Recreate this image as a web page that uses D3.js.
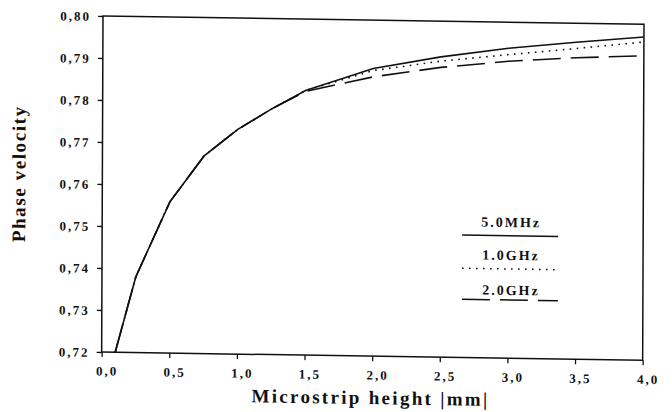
<!DOCTYPE html>
<html><head><meta charset="utf-8">
<script src="https://cdn.jsdelivr.net/npm/d3@7"></script>
<style>
html,body{margin:0;padding:0;background:#fff;}
svg{display:block;}
text{font-family:"Liberation Serif","DejaVu Serif",serif;font-weight:bold;fill:#111;}
</style></head>
<body>
<svg id="chart" width="672" height="412"></svg>
<script>
// ---- data ----
const heights = [0.1, 0.25, 0.5, 0.75, 1.0, 1.25, 1.5, 2.0, 2.5, 3.0, 3.5, 4.0];
const v5MHz = [0.720, 0.738, 0.756, 0.767, 0.7735, 0.7785, 0.783, 0.7885, 0.7915, 0.7938, 0.7955, 0.797];
const v1GHz = [0.720, 0.738, 0.756, 0.767, 0.7735, 0.7785, 0.783, 0.788, 0.7905, 0.7923, 0.794, 0.7958];
const v2GHz = [0.720, 0.738, 0.756, 0.767, 0.7735, 0.7785, 0.7828, 0.7865, 0.789, 0.7907, 0.7918, 0.7925];
const seriesNames = ["5.0MHz", "1.0GHz", "2.0GHz"];
const xTicks = [0, 0.5, 1.0, 1.5, 2.0, 2.5, 3.0, 3.5, 4.0];
const xTickLabels = ["0,0", "0,5", "1,0", "1,5", "2,0", "2,5", "3,0", "3,5", "4,0"];
const yTicks = [0.72, 0.73, 0.74, 0.75, 0.76, 0.77, 0.78, 0.79, 0.80];
const yTickLabels = ["0,72", "0,73", "0,74", "0,75", "0,76", "0,77", "0,78", "0,79", "0,80"];
const xTitle = "Microstrip height |mm|";
const yTitle = "Phase velocity";

// ---- layout ----
const L = 103, R = 644, T = 16, B = 352;
const x = d3.scaleLinear().domain([0, 4]).range([L, R]);
const y = d3.scaleLinear().domain([0.72, 0.80]).range([B, T]);

const svg = d3.select("#chart");
svg.append("rect").attr("width", 672).attr("height", 412).attr("fill", "#fff");
// the scanned figure is slightly skewed
const g = svg.append("g")
  .attr("transform", `translate(${L},${T}) matrix(1,0.0154,-0.004,1,0,0) translate(${-L},${-T})`);

// frame
g.append("rect").attr("x", L).attr("y", T).attr("width", R - L).attr("height", B - T)
  .attr("fill", "none").attr("stroke", "#111").attr("stroke-width", 1.5);

// x axis
const xAxis = d3.axisBottom(x).tickValues(xTicks).tickSize(5)
  .tickFormat((d, i) => xTickLabels[i]);
const xa = g.append("g").attr("transform", `translate(0,${B})`).call(xAxis);
xa.select(".domain").remove();
xa.selectAll(".tick line").attr("stroke", "#111").attr("stroke-width", 1.3);
xa.selectAll(".tick text").attr("y", 23.5).attr("dy", 0).attr("dx", 5)
  .style("font-size", "13px").style("letter-spacing", "2px")
  .style("font-family", '"Liberation Serif",serif').style("font-weight", "bold").attr("fill", "#111");

// y axis
const yAxis = d3.axisLeft(y).tickValues(yTicks).tickSize(5)
  .tickFormat((d, i) => yTickLabels[i]);
const ya = g.append("g").attr("transform", `translate(${L},0)`).call(yAxis);
ya.select(".domain").remove();
ya.selectAll(".tick line").attr("stroke", "#111").attr("stroke-width", 1.3);
ya.selectAll(".tick text").attr("x", -12).attr("dy", "0.35em")
  .style("font-size", "13px").style("letter-spacing", "2px")
  .style("font-family", '"Liberation Serif",serif').style("font-weight", "bold").attr("fill", "#111");

// titles
g.append("text").attr("x", 372).attr("y", 400).attr("text-anchor", "middle")
  .style("font-size", "19px").style("letter-spacing", "2.3px").text(xTitle);
g.append("text").attr("transform", "translate(26,175) rotate(-90)").attr("text-anchor", "middle")
  .style("font-size", "19px").style("letter-spacing", "1.6px").text(yTitle);

// curves
const styles = [
  {dash: null, w: 1.6},
  {dash: "1.6,5.4", w: 1.6},
  {dash: "28,10", w: 1.6}
];
const allSeries = [v5MHz, v1GHz, v2GHz];
const line = d3.line().x(d => x(d[0])).y(d => y(d[1]));
allSeries.forEach((vals, i) => {
  const pts = heights.map((h, j) => [h, vals[j]]);
  g.append("path").attr("d", line(pts)).attr("fill", "none")
    .attr("stroke", "#111").attr("stroke-width", styles[i].w)
    .attr("stroke-dasharray", styles[i].dash);
});

// legend
const legY = [229.5, 262.7, 293.7];
const legTextY = [220.7, 253.7, 288.7];
seriesNames.forEach((name, i) => {
  g.append("text").attr("x", 512).attr("y", legTextY[i]).attr("text-anchor", "middle")
    .style("font-size", "14px").style("letter-spacing", "2px").text(name);
  g.append("line").attr("x1", 463).attr("x2", 559).attr("y1", legY[i]).attr("y2", legY[i])
    .attr("stroke", "#111").attr("stroke-width", 1.5).attr("stroke-dasharray", styles[i].dash);
});
</script>
</body></html>
